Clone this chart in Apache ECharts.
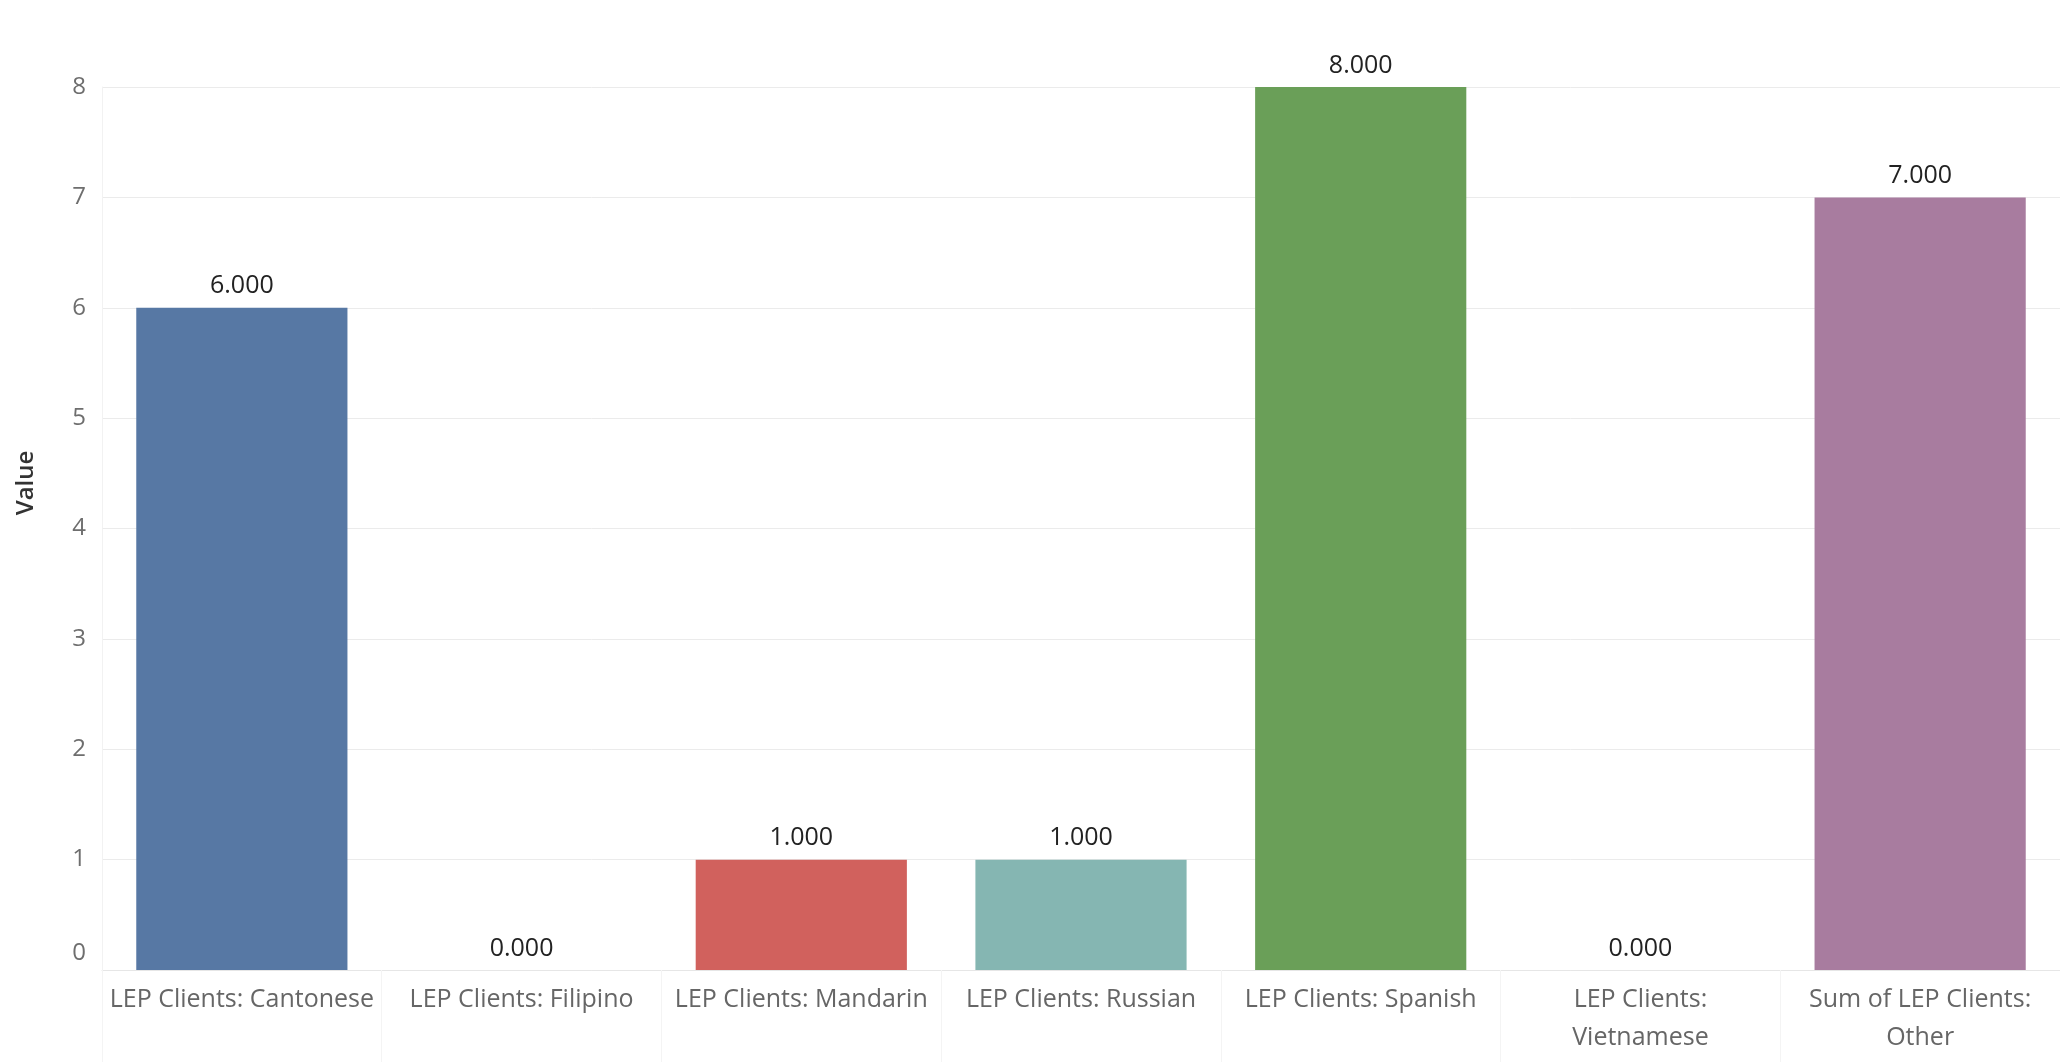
<!DOCTYPE html>
<html>
<head>
<meta charset="utf-8">
<script src="https://cdn.jsdelivr.net/npm/echarts@6/dist/echarts.min.js"></script>
<style>
html,body{margin:0;padding:0;background:#fff;}
#chart{width:2060px;height:1062px;}
</style>
</head>
<body>
<div id="chart"></div>
<script>
const categories = ["LEP Clients: Cantonese", "LEP Clients: Filipino", "LEP Clients: Mandarin", "LEP Clients: Russian", "LEP Clients: Spanish", "LEP Clients:\nVietnamese", "Sum of LEP Clients:\nOther"];
const values = [6, 0, 1, 1, 8, 0, 7];
const colors = ["#5778a4", "#e49444", "#d1615d", "#85b6b2", "#6a9f58", "#e7ca60", "#a87c9f"];
const yTicks = [0, 1, 2, 3, 4, 5, 6, 7, 8];
const yTitle = 'Value';

const chart = echarts.init(document.getElementById('chart'));
chart.setOption({
  backgroundColor: '#ffffff',
  animation: false,
  grid: { left: 102, right: 0, top: 87, bottom: 92, containLabel: false },
  graphic: [{
    type: 'text',
    x: 26, y: 483,
    rotation: Math.PI / 2,
    style: {
      text: yTitle, fill: '#333333', fontSize: 24, fontWeight: 600,
      fontFamily: 'Open Sans', align: 'center', verticalAlign: 'middle'
    }
  }],
  xAxis: {
    type: 'category',
    data: categories,
    axisLine: { show: true, lineStyle: { color: '#e6e6e6', width: 1 } },
    axisTick: { show: true, alignWithLabel: false, length: 92, lineStyle: { color: '#f4f4f4', width: 1 } },
    axisLabel: {
      interval: 0, margin: 11, color: '#666666', fontSize: 25, lineHeight: 38,
      fontFamily: 'Open Sans'
    },
    splitLine: { show: false }
  },
  yAxis: {
    type: 'value',
    min: yTicks[0], max: yTicks[yTicks.length - 1], interval: 1,
    axisLine: { show: true, lineStyle: { color: '#f2f2f2', width: 1 } },
    axisTick: { show: false },
    axisLabel: {
      margin: 16, color: '#6e6e6e', fontSize: 24, fontFamily: 'Open Sans',
      formatter: v => v === yTicks[0] ? '{z|' + v + '}' : String(v),
      rich: { z: { color: '#6e6e6e', fontSize: 24, fontFamily: 'Open Sans', padding: [0, 0, 34, 0] } }
    },
    splitLine: { show: true, lineStyle: { color: '#ebebeb', width: 1 } }
  },
  series: [{
    type: 'bar',
    data: values.map((v, i) => ({ value: v, itemStyle: { color: colors[i] } })),
    barCategoryGap: '24.5%',
    label: {
      show: true, position: 'top', distance: 9,
      formatter: p => p.value.toFixed(3),
      color: '#222222', fontSize: 25, fontFamily: 'Open Sans'
    }
  }]
});
</script>
</body>
</html>
